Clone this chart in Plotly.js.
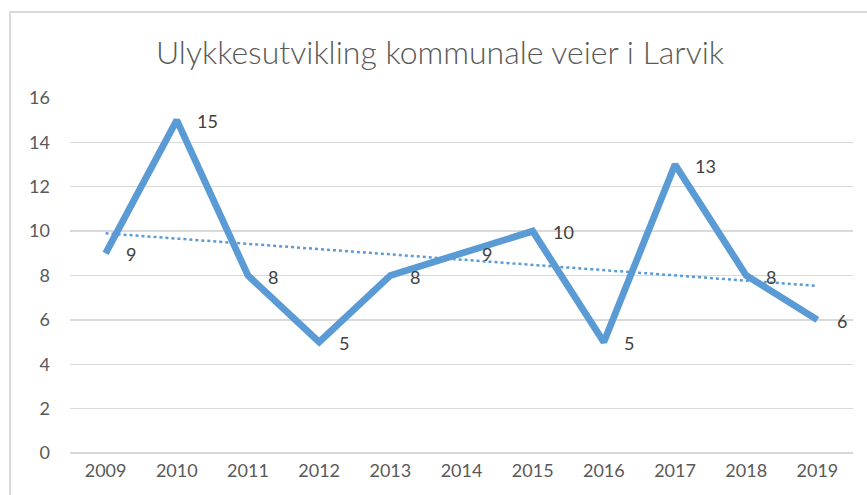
<!DOCTYPE html>
<html>
<head>
<meta charset="utf-8">
<script src="https://cdn.plot.ly/plotly-3.0.1.min.js"></script>
<style>
html,body{margin:0;padding:0;background:#fff;overflow:hidden;}
#wrap{position:absolute;left:9px;top:11px;width:858px;height:484px;border-left:2px solid #d9d9d9;border-top:2px solid #d9d9d9;}
#chart{width:858px;height:484px;}
</style>
</head>
<body>
<div id="wrap"><div id="chart"></div></div>
<script>
const years = ['2009','2010','2011','2012','2013','2014','2015','2016','2017','2018','2019'];
const accidents = [9, 15, 8, 5, 8, 9, 10, 5, 13, 8, 6];
const trendYears = ['2009', '2019'];
const trendValues = [9.9, 7.53];
const yTicks = [0, 2, 4, 6, 8, 10, 12, 14, 16];

const blue = '#5b9bd5';
const font = 'Lato, "Open Sans", sans-serif';

const traces = [
  {
    x: trendYears, y: trendValues, type: 'scatter', mode: 'lines',
    line: {color: blue, width: 2.5, dash: 'dot'},
    hoverinfo: 'skip', showlegend: false
  },
  {
    x: years, y: accidents, type: 'scatter', mode: 'lines',
    line: {color: blue, width: 6.8},
    showlegend: false
  }
];

// category axis: annotation x given as the category index
const annotations = years.map((yr, i) => ({
  x: i, y: accidents[i], xref: 'x', yref: 'y',
  text: String(accidents[i]), showarrow: false,
  xanchor: 'left', yanchor: 'middle', xshift: 18, yshift: -1,
  font: {family: font, size: 18, color: '#404040'}
}));

const layout = {
  width: 858, height: 484,
  margin: {l: 59, r: 16, t: 85, b: 44},
  paper_bgcolor: '#ffffff', plot_bgcolor: '#ffffff',
  title: {
    text: 'Ulykkesutvikling kommunale veier i Larvik',
    font: {family: font, size: 32, color: '#595959', weight: 300},
    x: 0.5, xanchor: 'center', y: 0.918, yanchor: 'middle', yref: 'container'
  },
  xaxis: {
    type: 'category', categoryorder: 'array', categoryarray: years,
    range: [-0.5, 10.5],
    showgrid: false, zeroline: false, showline: false,
    ticks: '', tickfont: {family: font, size: 18, color: '#595959'},
    ticklabelstandoff: 5
  },
  yaxis: {
    range: [0, 16], tickvals: yTicks, ticktext: yTicks.map(String),
    showgrid: true, gridcolor: '#d9d9d9', gridwidth: 1.3,
    zeroline: true, zerolinecolor: '#d9d9d9', zerolinewidth: 1.3,
    showline: false, ticks: '',
    tickfont: {family: font, size: 18, color: '#595959'},
    ticklabelstandoff: 19
  },
  annotations: annotations
};

Plotly.newPlot('chart', traces, layout, {staticPlot: true, displayModeBar: false});
</script>
</body>
</html>
